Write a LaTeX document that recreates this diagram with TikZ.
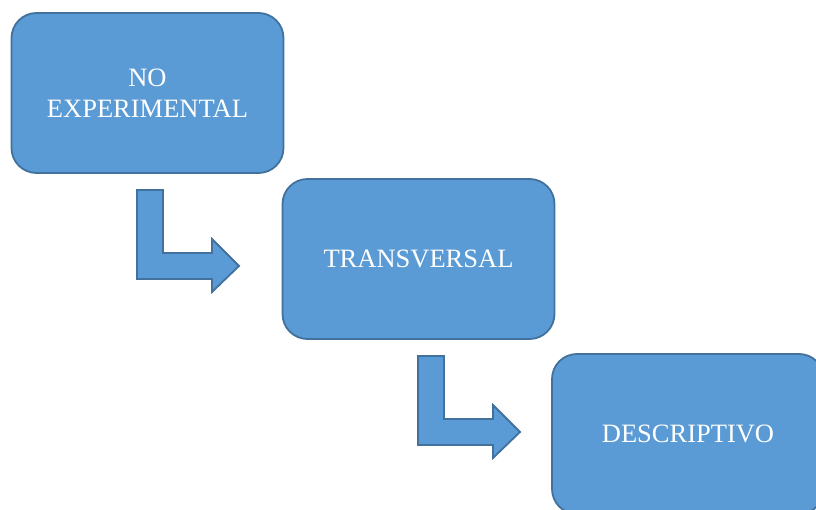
\documentclass[tikz,border=0pt]{standalone}
\usepackage{fontspec}
\setmainfont{Liberation Serif}
\usepackage{tikz}

\definecolor{azul}{HTML}{5B9BD5}
\definecolor{borde}{HTML}{41719C}

\begin{document}
\begin{tikzpicture}[x=1pt,y=-1pt,
    every node/.style={font=\fontsize{26.5}{31}\selectfont,text=white},
    caja/.style={draw=borde,fill=azul,line width=1.8pt,rounded corners=25pt,
      minimum width=272pt,minimum height=160pt,align=center,inner sep=0pt},
    flecha/.style={draw=borde,fill=azul,line width=1.8pt,line join=miter}]
    \useasboundingbox (0,0) rectangle (816,510);
    % cajas
    \node[caja] (noexp) at (147.5,93) {NO\\EXPERIMENTAL};
    \node[caja] (trans) at (418.5,259) {TRANSVERSAL};
    \node[caja] (desc) at (688,434) {DESCRIPTIVO};
    % flechas
    \coordinate (f1) at (137,190);
    \coordinate (f2) at (418,356);
    \draw[flecha] (f1) -- ++(26,0) -- ++(0,63) -- ++(49,0) -- ++(0,-14) -- ++(27,27) -- ++(-27,26) -- ++(0,-13) -- ++(-75,0) -- cycle;
    \draw[flecha] (f2) -- ++(26,0) -- ++(0,63) -- ++(49,0) -- ++(0,-14) -- ++(27,27) -- ++(-27,26) -- ++(0,-13) -- ++(-75,0) -- cycle;
\end{tikzpicture}
\end{document}
